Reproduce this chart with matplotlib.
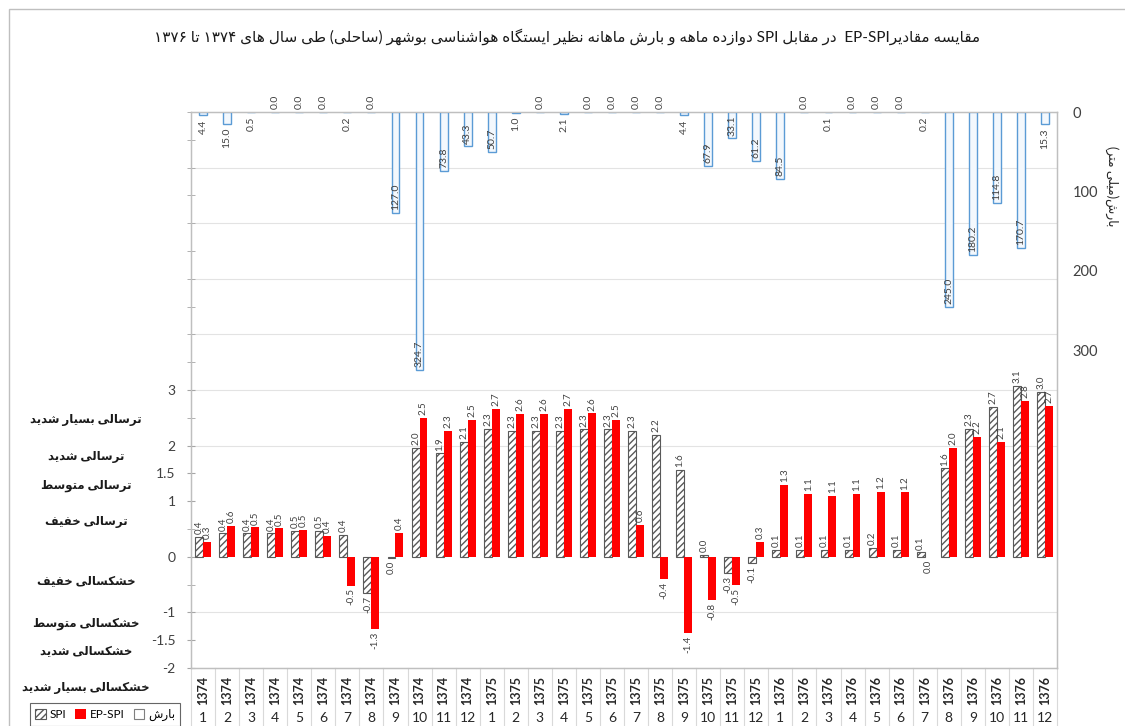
import re
import numpy as np
import matplotlib
matplotlib.use('Agg')
import matplotlib.pyplot as plt
from matplotlib.patches import Patch, Rectangle
from matplotlib.transforms import blended_transform_factory

# ---------------- data ----------------
years = [1374] * 12 + [1375] * 12 + [1376] * 12
months = list(range(1, 13)) * 3
spi = [0.36, 0.42, 0.42, 0.42, 0.47, 0.46, 0.39, -0.66, -0.02, 1.96, 1.86, 2.06,
       2.30, 2.26, 2.26, 2.27, 2.29, 2.29, 2.26, 2.19, 1.57, 0.03, -0.29, -0.12,
       0.12, 0.12, 0.12, 0.12, 0.16, 0.12, 0.08, 1.59, 2.30, 2.69, 3.08, 2.96]
ep_spi = [0.27, 0.56, 0.53, 0.51, 0.48, 0.37, -0.52, -1.30, 0.43, 2.50, 2.26, 2.46,
          2.66, 2.57, 2.57, 2.66, 2.58, 2.46, 0.57, -0.40, -1.37, -0.78, -0.51, 0.27,
          1.30, 1.13, 1.10, 1.13, 1.17, 1.16, -0.01, 1.96, 2.16, 2.06, 2.80, 2.71]
precip = [4.4, 15.0, 0.5, 0.0, 0.0, 0.0, 0.2, 0.0, 127.0, 324.7, 73.8, 43.3,
          50.7, 1.0, 0.0, 2.1, 0.0, 0.0, 0.0, 0.0, 4.4, 67.9, 33.1, 61.2,
          84.5, 0.0, 0.1, 0.0, 0.0, 0.0, 0.2, 245.0, 180.2, 114.8, 170.7, 15.3]
left_tick_values = [-2, -1.5, -1, 0, 1, 1.5, 2, 3]
right_tick_values = [0, 100, 200, 300]
class_labels = ['ترسالی بسیار شدید', 'ترسالی شدید', 'ترسالی متوسط', 'ترسالی خفیف',
                'خشکسالی خفیف', 'خشکسالی متوسط', 'خشکسالی شدید', 'خشکسالی بسیار شدید']
class_label_y = [2.46, 1.80, 1.27, 0.63, -0.45, -1.21, -1.71, -2.36]
title_text = 'مقایسه مقادیرEP-SPI  در مقابل SPI دوازده ماهه و بارش ماهانه نظیر ایستگاه هواشناسی بوشهر (ساحلی) طی سال های ۱۳۷۴ تا ۱۳۷۶'
right_axis_title = 'بارش(میلی متر)'
legend_labels = ['SPI', 'EP-SPI', 'بارش']

# ---------------- minimal Persian shaping + bidi ----------------
DUAL = {
    'ب': (0xFE8F, 0xFE90, 0xFE91, 0xFE92), 'ت': (0xFE95, 0xFE96, 0xFE97, 0xFE98),
    'ح': (0xFEA1, 0xFEA2, 0xFEA3, 0xFEA4), 'خ': (0xFEA5, 0xFEA6, 0xFEA7, 0xFEA8),
    'س': (0xFEB1, 0xFEB2, 0xFEB3, 0xFEB4), 'ش': (0xFEB5, 0xFEB6, 0xFEB7, 0xFEB8),
    'ط': (0xFEC1, 0xFEC2, 0xFEC3, 0xFEC4), 'ظ': (0xFEC5, 0xFEC6, 0xFEC7, 0xFEC8),
    'ف': (0xFED1, 0xFED2, 0xFED3, 0xFED4), 'ق': (0xFED5, 0xFED6, 0xFED7, 0xFED8),
    'ل': (0xFEDD, 0xFEDE, 0xFEDF, 0xFEE0), 'م': (0xFEE1, 0xFEE2, 0xFEE3, 0xFEE4),
    'ن': (0xFEE5, 0xFEE6, 0xFEE7, 0xFEE8), 'ه': (0xFEE9, 0xFEEA, 0xFEEB, 0xFEEC),
    'ک': (0xFB8E, 0xFB8F, 0xFB90, 0xFB91), 'گ': (0xFB92, 0xFB93, 0xFB94, 0xFB95),
    'ی': (0xFBFC, 0xFBFD, 0xFBFE, 0xFBFF),
}
RIGHT = {'ا': (0xFE8D, 0xFE8E), 'د': (0xFEA9, 0xFEAA), 'ر': (0xFEAD, 0xFEAE),
         'ز': (0xFEAF, 0xFEB0), 'و': (0xFEED, 0xFEEE)}
MIRROR = {'(': ')', ')': '('}
LTR_RE = re.compile(r'[A-Za-z0-9\u06F0-\u06F9](?:[A-Za-z0-9\u06F0-\u06F9.\-]*[A-Za-z0-9\u06F0-\u06F9])?')


def shape(s):
    out = []
    for i, c in enumerate(s):
        if c in DUAL or c in RIGHT:
            p = s[i - 1] if i > 0 else ''
            n = s[i + 1] if i + 1 < len(s) else ''
            jp = p in DUAL
            if c in RIGHT:
                out.append(chr(RIGHT[c][1] if jp else RIGHT[c][0]))
            else:
                jn = n in DUAL or n in RIGHT
                idx = 3 if (jp and jn) else 1 if jp else 2 if jn else 0
                out.append(chr(DUAL[c][idx]))
        else:
            out.append(c)
    return ''.join(out)


def fa(s):
    s = shape(s)
    runs, pos = [], 0
    for m in LTR_RE.finditer(s):
        if m.start() > pos:
            runs.append(('R', s[pos:m.start()]))
        runs.append(('L', m.group()))
        pos = m.end()
    if pos < len(s):
        runs.append(('R', s[pos:]))
    vis = []
    for kind, t in reversed(runs):
        if kind == 'R':
            vis.append(''.join(MIRROR.get(ch, ch) for ch in reversed(t)))
        else:
            vis.append(t)
    return ''.join(vis)


def fmt(v):
    t = f'{v:.1f}'
    return '0.0' if t == '-0.0' else t


# ---------------- figure ----------------
plt.rcParams['font.family'] = ['Lato', 'DejaVu Sans']
W, H = 1125, 726
fig = plt.figure(figsize=(W / 100, H / 100), dpi=100)
fig.patch.set_facecolor('white')
fig.patches.append(Rectangle((9 / W, -0.2), 1.5, 1.2 - 9 / H, transform=fig.transFigure,
                             fill=False, edgecolor='#BFBFBF', lw=1.0))

ax = fig.add_axes([191 / W, 58 / H, (1057 - 191) / W, (668 - 112) / H])
x = np.arange(len(spi))
bw = 0.33
grey = '#404040'

ax.set_xlim(-0.5, len(spi) - 0.5)
ax.set_ylim(-2, 8)
for g in [-1, 2, 3, 4, 5, 6, 7]:
    ax.axhline(g, color='#E3E3E3', lw=0.8, zorder=0)

plt.rcParams['hatch.linewidth'] = 1.0
ax.bar(x - bw / 2, spi, bw, facecolor='white', edgecolor='#595959', hatch='/////',
       lw=0.8, zorder=2)
ax.bar(x + bw / 2, ep_spi, bw, facecolor='#FF0000', edgecolor='none', zorder=2)

for xi, v in zip(x, spi):
    ax.annotate(fmt(v), (xi - bw / 2, v), xytext=(0, 2 if v >= 0 else -2),
                textcoords='offset points', rotation=90, ha='center',
                va='bottom' if v >= 0 else 'top', fontsize=7, color=grey)
for xi, v in zip(x, ep_spi):
    ax.annotate(fmt(v), (xi + bw / 2, v), xytext=(0, 2 if v >= 0 else -2),
                textcoords='offset points', rotation=90, ha='center',
                va='bottom' if v >= 0 else 'top', fontsize=7, color=grey)

ax.set_yticks(left_tick_values)
ax.set_yticklabels([f'{v:g}' for v in left_tick_values])
ax.set_yticks(np.arange(-2, 8.01, 0.5), minor=True)
ax.tick_params(axis='y', which='both', direction='inout', length=6, color='#A6A6A6',
               labelsize=10, labelcolor=grey, pad=8)
ax.set_xticks([])
for sp in ax.spines.values():
    sp.set_color('#BFBFBF')
    sp.set_linewidth(1.0)

# precipitation on inverted secondary axis
ax2 = ax.twinx()
ax2.set_ylim(700, 0)
ax2.bar(x, precip, bw, facecolor='#F3F8FD', edgecolor='#5B9BD5', lw=1.0, zorder=2)
for xi, v in zip(x, precip):
    above = (v == 0) or (v >= 25)
    ax2.annotate(fmt(v), (xi, v), xytext=(0, 2 if above else -3), textcoords='offset points',
                 rotation=90, ha='center', va='bottom' if above else 'top',
                 fontsize=7.5, color=grey, annotation_clip=False)
ax2.set_yticks(right_tick_values)
ax2.tick_params(axis='y', length=0, pad=11, labelsize=10.5, labelcolor=grey)
for sp in ax2.spines.values():
    sp.set_color('#BFBFBF')

# category axis (multi-level)
bt = blended_transform_factory(ax.transData, ax.transAxes)
for xi, yr, mo in zip(x, years, months):
    ax.text(xi, -0.040, str(yr), transform=bt, rotation=90, ha='center', va='center',
            fontsize=9, fontweight='bold', color='#262626', clip_on=False)
    ax.text(xi, -0.090, str(mo), transform=bt, ha='center', va='center',
            fontsize=10, color='#262626', clip_on=False)
for b in np.arange(-0.5, len(spi), 1.0):
    ax.plot([b, b], [0, -0.12], transform=bt, color='#D9D9D9', lw=0.8, clip_on=False)

# class labels on the left
lt = blended_transform_factory(fig.transFigure, ax.transData)
for lab, yv in zip(class_labels, class_label_y):
    ax.text(86 / W, yv, fa(lab), transform=lt, ha='center', va='center', fontsize=8.5,
            fontweight='bold', color='#1a1a1a', clip_on=False)

# titles
fig.text(567 / W, (H - 37) / H, fa(title_text), ha='center', va='center', fontsize=11,
         color='#1a1a1a')
fig.text(1112 / W, (H - 186) / H, fa(right_axis_title), rotation=270, ha='center',
         va='center', fontsize=9, color='#262626')

# legend
handles = [Patch(facecolor='white', edgecolor='#595959', hatch='/////', lw=0.8),
           Patch(facecolor='#FF0000', edgecolor='none'),
           Patch(facecolor='white', edgecolor='#7F7F7F', lw=0.8)]
leg = fig.legend(handles, [fa(t) for t in legend_labels], loc='lower left',
                 bbox_to_anchor=(24 / W, -6 / H), ncol=3, fontsize=8.5, frameon=True,
                 fancybox=False, edgecolor='#404040', handlelength=0.9, handleheight=0.9,
                 handletextpad=0.3, columnspacing=0.8, borderpad=0.45)
leg.get_frame().set_linewidth(0.8)

fig.savefig('out.png', dpi=100)
